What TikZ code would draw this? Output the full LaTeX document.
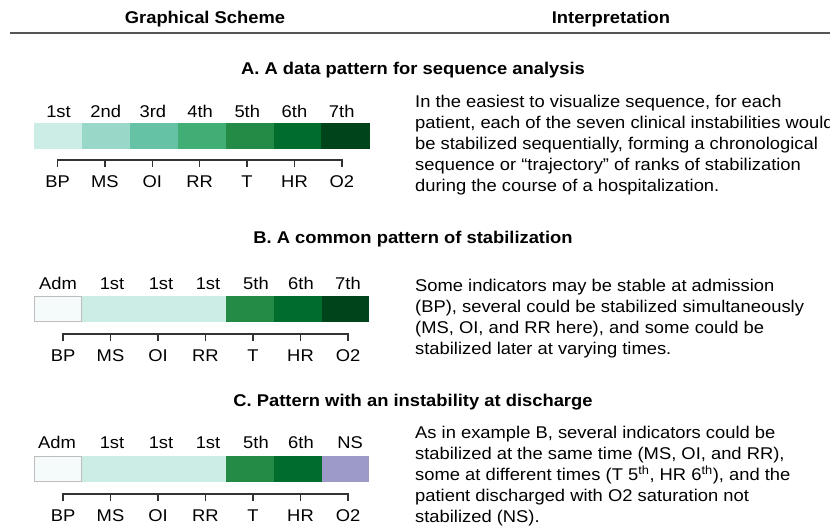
\documentclass[tikz,border=0pt]{standalone}
\usepackage{fontspec}
\setmainfont{Liberation Sans}[FakeStretch=1.08]
\definecolor{g1}{HTML}{CCECE6}
\definecolor{g2}{HTML}{99D8C9}
\definecolor{g3}{HTML}{66C2A4}
\definecolor{g4}{HTML}{41AE76}
\definecolor{g5}{HTML}{238B45}
\definecolor{g6}{HTML}{006D2C}
\definecolor{g7}{HTML}{00441B}
\definecolor{adm}{HTML}{F5FBFB}
\definecolor{admline}{HTML}{BDBDBD}
\definecolor{ns}{HTML}{9E9AC8}
\definecolor{rule}{HTML}{555555}
\definecolor{brk}{HTML}{333333}
\begin{document}
\begin{tikzpicture}[x=1pt,y=-1pt,
  txt/.style={font=\fontsize{17}{21}\selectfont, inner sep=0pt, anchor=north west, align=left},
  ttl/.style={font=\fontsize{17}{21}\selectfont\bfseries, inner sep=0pt, anchor=base},
  lbl/.style={font=\fontsize{17}{21}\selectfont, inner sep=0pt, anchor=base},
  seg/.style={draw=none, inner sep=0pt, outer sep=0pt, minimum height=26pt, anchor=north west},
  admbox/.style={draw=admline, line width=1pt, fill=adm, inner sep=0pt, outer sep=0pt, minimum height=25pt, minimum width=46.9pt, anchor=north west},
  bracket/.style={draw=brk, line width=1.3pt, line join=miter},
  headrule/.style={draw=rule, line width=1.5pt},
]
\useasboundingbox (0,0) rectangle (830,528);

% header
\node[ttl] (h1) at (205,23.5) {Graphical Scheme};
\node[ttl] (h2) at (611,23.5) {Interpretation};
\coordinate (hl) at (10,33);
\coordinate (hr) at (830,33);
\draw[headrule] (hl) -- (hr);

% titles
\node[ttl] (tA) at (413,74) {A. A data pattern for sequence analysis};
\node[ttl] (tB) at (413,243) {B. A common pattern of stabilization};
\node[ttl] (tC) at (413,406.5) {C. Pattern with an instability at discharge};

% ---- A ----
\foreach \c [count=\i] in {g1,g2,g3,g4,g5,g6,g7}
  \node[seg, fill=\c, minimum width=48.2pt] (aS\i) at ({34+(\i-1)*47.9},123) {};
\foreach \r [count=\i] in {1st,2nd,3rd,4th,5th,6th,7th}
  \node[lbl] (aR\i) at ({58.5+(\i-1)*47.2},117) {\r};
\foreach \i in {1,...,7}
  \coordinate (aK\i) at ({57.5+(\i-1)*47.4},160);
\draw[bracket] (aK1) ++(0,7) -- (aK1) -- (aK7) -- ++(0,7);
\foreach \i in {2,...,6} \draw[bracket] (aK\i) -- ++(0,7);
\foreach \n [count=\i] in {BP,MS,OI,RR,T,HR,O2}
  \node[lbl] (aL\i) at ({57.5+(\i-1)*47.4},187) {\n};
\node[txt] (aT) at (415,92.3) {\strut In the easiest to visualize sequence, for each\\
patient, each of the seven clinical instabilities would\\
be stabilized sequentially, forming a chronological\\
sequence or “trajectory” of ranks of stabilization\\
during the course of a hospitalization.};

% ---- B ----
\node[admbox] (bS1) at (34.5,296.5) {};
\node[seg, fill=g1, minimum width=144pt] (bS2) at (81.9,296) {};
\node[seg, fill=g5, minimum width=48.2pt] (bS5) at (225.7,296) {};
\node[seg, fill=g6, minimum width=48.2pt] (bS6) at (273.6,296) {};
\node[seg, fill=g7, minimum width=47.8pt] (bS7) at (321.5,296) {};
\foreach \r/\x [count=\i] in {Adm/58,1st/112,1st/161,1st/208,5th/256,6th/301,7th/348}
  \node[lbl] (bR\i) at (\x,289) {\r};
\foreach \i in {1,...,7}
  \coordinate (bK\i) at ({63+(\i-1)*47.5},334);
\draw[bracket] (bK1) ++(0,7) -- (bK1) -- (bK7) -- ++(0,7);
\foreach \i in {2,...,6} \draw[bracket] (bK\i) -- ++(0,7);
\foreach \n [count=\i] in {BP,MS,OI,RR,T,HR,O2}
  \node[lbl] (bL\i) at ({63+(\i-1)*47.5},361.5) {\n};
\node[txt] (bT) at (415,277) {\strut Some indicators may be stable at admission\\
(BP), several could be stabilized simultaneously\\
(MS, OI, and RR here), and some could be\\
stabilized later at varying times.};

% ---- C ----
\node[admbox] (cS1) at (34.5,456.5) {};
\node[seg, fill=g1, minimum width=144pt] (cS2) at (81.9,456) {};
\node[seg, fill=g5, minimum width=48.2pt] (cS5) at (225.7,456) {};
\node[seg, fill=g6, minimum width=48.2pt] (cS6) at (273.6,456) {};
\node[seg, fill=ns, minimum width=47.8pt] (cS7) at (321.5,456) {};
\foreach \r/\x [count=\i] in {Adm/57,1st/112,1st/161,1st/208,5th/256,6th/301,NS/350}
  \node[lbl] (cR\i) at (\x,448.5) {\r};
\foreach \i in {1,...,7}
  \coordinate (cK\i) at ({63+(\i-1)*47.5},494);
\draw[bracket] (cK1) ++(0,7) -- (cK1) -- (cK7) -- ++(0,7);
\foreach \i in {2,...,6} \draw[bracket] (cK\i) -- ++(0,7);
\foreach \n [count=\i] in {BP,MS,OI,RR,T,HR,O2}
  \node[lbl] (cL\i) at ({63+(\i-1)*47.5},521.5) {\n};
\node[txt] (cT) at (415,423.6) {\strut As in example B, several indicators could be\\
stabilized at the same time (MS, OI, and RR),\\
some at different times (T 5\textsuperscript{th}, HR 6\textsuperscript{th}), and the\\
patient discharged with O2 saturation not\\
stabilized (NS).};
\end{tikzpicture}
\end{document}
